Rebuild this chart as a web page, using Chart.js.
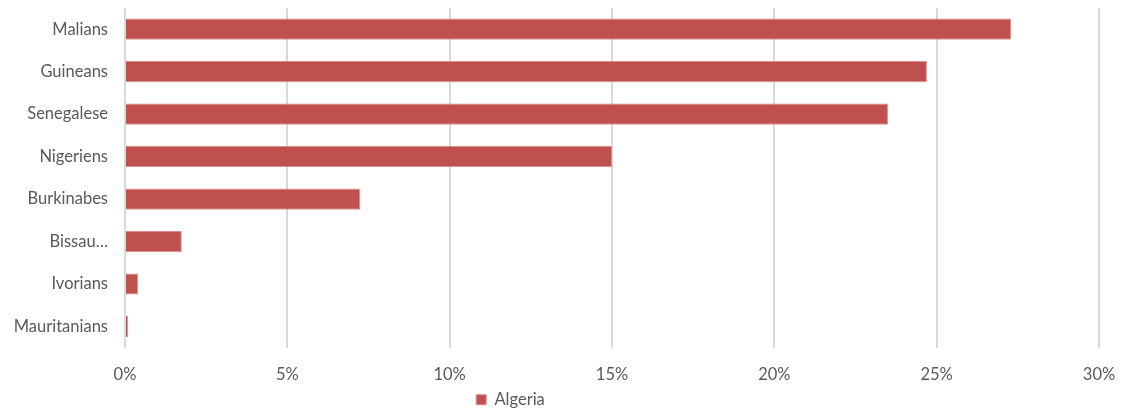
<!DOCTYPE html>
<html><head><meta charset="utf-8">
<script src="https://cdn.jsdelivr.net/npm/chart.js@4"></script>
<style>html,body{margin:0;padding:0;background:#fff}#wrap{width:1135px;height:414px}</style>
</head><body><div id="wrap"><canvas id="c" width="1135" height="414"></canvas></div>
<script>
const categories = ["Malians","Guineans","Senegalese","Nigeriens","Burkinabes","Bissau…","Ivorians","Mauritanians"];
const algeria = [27.3, 24.7, 23.5, 15.0, 7.25, 1.75, 0.4, 0.1];
const xTicks = [0,5,10,15,20,25,30];
const seriesName = "Algeria";

Chart.defaults.font.family = "Lato, 'Open Sans', sans-serif";
Chart.defaults.font.size = 16.5;
Chart.defaults.color = "#595959";

const legendShift = {
  id: 'legendShift',
  afterLayout(chart) {
    const lg = chart.legend;
    if (lg) { lg.left -= 39; lg.right -= 39; lg.top -= 10; lg.bottom -= 10; }
  }
};

new Chart(document.getElementById('c'), {
  type: 'bar',
  data: { labels: categories, datasets: [{ label: seriesName, data: algeria,
    backgroundColor: '#C0504D', borderColor: '#D98D8B', borderWidth: 1,
    categoryPercentage: 0.5, barPercentage: 1.0 }] },
  options: {
    indexAxis: 'y', responsive: false, animation: false,
    layout: { padding: { top: 8, right: 36, left: 0, bottom: -14 } },
    plugins: {
      legend: { position: 'bottom', labels: { boxWidth: 10, boxHeight: 10, padding: 0, color: '#595959', font: { size: 16.5 } } },
      tooltip: { enabled: false }
    },
    scales: {
      x: { min: 0, max: 30,
        afterBuildTicks: s => { s.ticks = xTicks.map(v => ({ value: v })); },
        ticks: { callback: v => v + '%', padding: 17, color: '#595959' },
        grid: { color: '#D9D9D9', lineWidth: 2, drawTicks: false },
        border: { display: false } },
      y: { grid: { display: false, drawTicks: false }, border: { display: false },
        ticks: { padding: 17, color: '#595959' },
        afterFit: s => { s.width = 125; s.paddingTop = 0; s.paddingBottom = 0; } }
    }
  },
  plugins: [legendShift]
});
</script></body></html>
